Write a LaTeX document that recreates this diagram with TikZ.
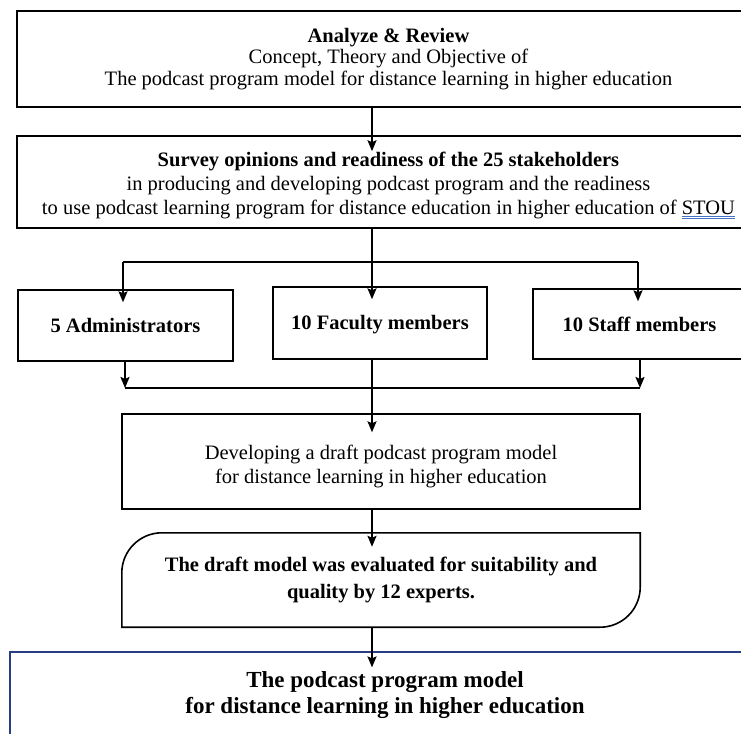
\documentclass[tikz,border=0pt]{standalone}
\usepackage{fontspec}
\setmainfont{Liberation Serif}
\usetikzlibrary{arrows.meta}
\definecolor{navy}{RGB}{40,62,130}
\definecolor{ulblue}{RGB}{68,114,196}
\newcommand{\lowered}[2]{\raisebox{-#1}[\height][\depth]{\begin{tabular}{@{}c@{}}#2\end{tabular}}}
\tikzset{
  boxbase/.style={draw, line width=1.6pt, inner sep=0pt, align=center,
    font=\fontsize{20.5}{24}\selectfont},
  bigbox/.style={boxbase},
  topbox/.style={boxbase, font=\fontsize{20.5}{21.5}\selectfont},
  rowbox/.style={boxbase, line width=1.4pt, font=\fontsize{20.5}{24}\selectfont\bfseries},
  midbox/.style={boxbase, line width=1.4pt},
  evalbox/.style={inner sep=0pt, align=center, font=\fontsize{20.5}{27}\selectfont\bfseries},
  finalbox/.style={draw=navy, line width=1.2pt, inner sep=0pt, align=center,
    font=\fontsize{23}{26}\selectfont\bfseries},
  conn/.style={line width=1.8pt},
  arr/.style={conn, -{Stealth[length=11pt,width=9pt,inset=2pt]}}
}
\begin{document}
\begin{tikzpicture}[x=1pt,y=-1pt]
\useasboundingbox (0,0) rectangle (741,733);
\clip (0,0) rectangle (741,733);
\coordinate (axis) at (372,0);

\node[topbox, minimum width=743pt, minimum height=96pt] (box1) at (388.5,59)
  {\textbf{Analyze \& Review}\\Concept, Theory and Objective of\\The podcast program model for distance learning in higher education};

\node[bigbox, minimum width=743pt, minimum height=92pt] (box2) at (388.5,182)
  {\lowered{4pt}{\textbf{Survey opinions and readiness of the 25 stakeholders}\\in producing and developing podcast program and the readiness\\to use podcast learning program for distance education in higher education of \textcolor{ulblue}{\underline{\underline{\textcolor{black}{STOU}}}}}};

\node[rowbox, minimum width=215pt, minimum height=71pt] (boxA) at (125.5,325.5) {5 Administrators};
\node[rowbox, minimum width=214pt, minimum height=72pt] (boxB) at (380,323) {\lowered{2pt}{10 Faculty members}};
\node[rowbox, minimum width=213pt, minimum height=70pt] (boxC) at (639.5,324) {10 Staff members};

\node[midbox, minimum width=518pt, minimum height=95pt] (box4) at (381,461.5)
  {\lowered{5pt}{Developing a draft podcast program model\\for distance learning in higher education}};

\node[evalbox, minimum width=518pt, minimum height=94pt] (box5) at (381,580)
  {The draft model was evaluated for suitability and\\quality by 12 experts.};
\draw[line width=1.6pt] (box5.south west) -- ([yshift=-40pt]box5.north west)
  .. controls ([yshift=-18pt]box5.north west) and ([xshift=18pt]box5.north west) .. ([xshift=40pt]box5.north west)
  -- (box5.north east) -- ([yshift=40pt]box5.south east)
  .. controls ([yshift=18pt]box5.south east) and ([xshift=-18pt]box5.south east) .. ([xshift=-40pt]box5.south east)
  -- cycle;

\node[finalbox, minimum width=750pt, minimum height=86pt] (box6) at (385,695)
  {The podcast program model\\for distance learning in higher education};

% connectors
\coordinate (b1L) at (123,262);
\coordinate (b1M) at (372,262);
\coordinate (b1R) at (638,262);
\coordinate (b2L) at (125,388);
\coordinate (b2R) at (640,388);

\draw[arr] (box1.south -| axis) -- ([yshift=-16pt]box2.north -| axis);
\draw[conn] (box2.south -| axis) -- (b1M);
\draw[conn] (b1L) -- (b1R);
\draw[arr] (b1L) -- ([yshift=-13pt]boxA.north -| b1L);
\draw[arr] (b1M) -- ([yshift=-13pt]boxB.north -| b1M);
\draw[arr] (b1R) -- ([yshift=-13pt]boxC.north -| b1R);
\draw[arr] (boxA.south -| b2L) -- (b2L);
\draw[arr] (boxC.south -| b2R) -- (b2R);
\draw[conn] (b2L) -- (b2R);
\draw[arr] (boxB.south -| axis) -- ([yshift=-19pt]box4.north -| axis);
\draw[arr] (box4.south -| axis) -- ([yshift=-14pt]box5.north -| axis);
\draw[arr] (box5.south -| axis) -- ([yshift=-16pt]box6.north -| axis);
\end{tikzpicture}
\end{document}
